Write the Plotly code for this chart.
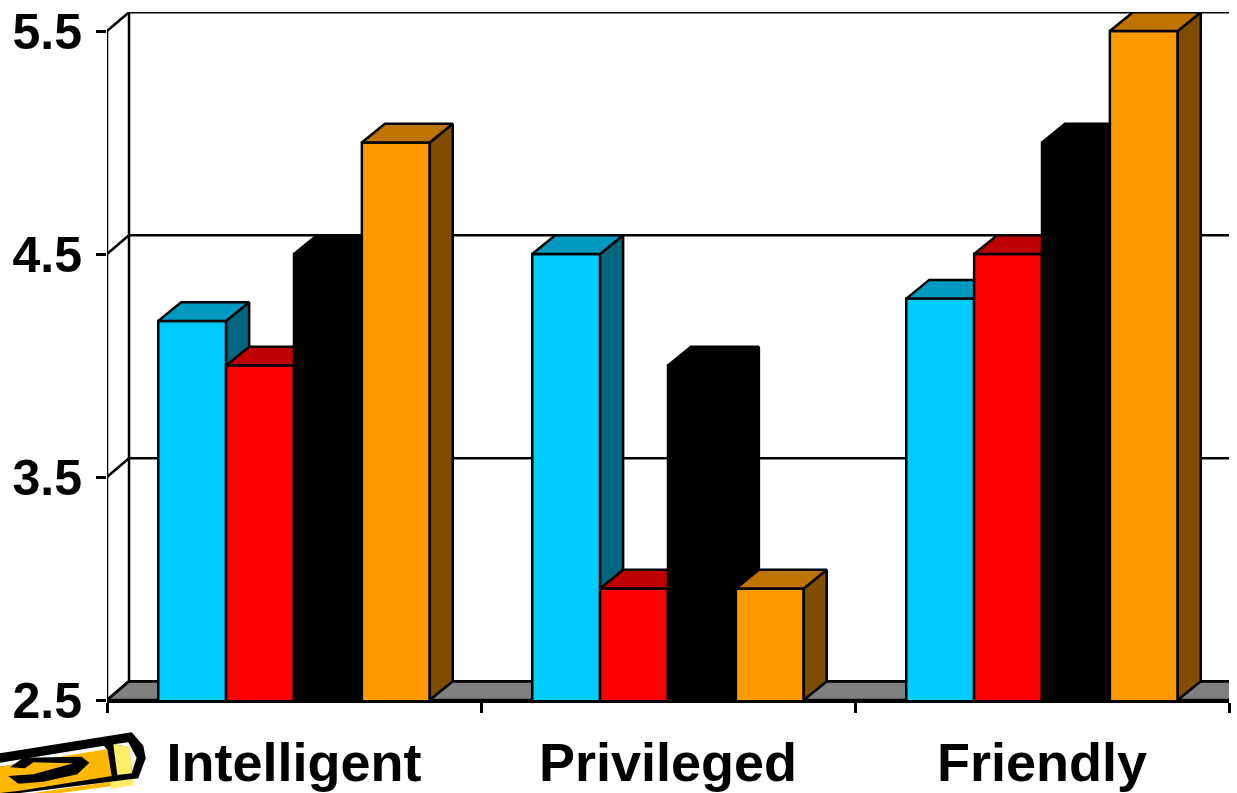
import plotly.graph_objects as go

# Survey ratings by trait and group
categories = ["Intelligent", "Privileged", "Friendly"]
blue_values = [4.2, 4.5, 4.3]
red_values = [4.0, 3.0, 4.5]
black_values = [4.5, 4.0, 5.0]
orange_values = [5.0, 3.0, 5.5]
y_ticks = [2.5, 3.5, 4.5, 5.5]

series = [
    ("Series 1", blue_values, "#00CCFF", "#0099BF", "#006680"),
    ("Series 2", red_values, "#FF0000", "#BF0000", "#800000"),
    ("Series 3", black_values, "#000000", "#000000", "#000000"),
    ("Series 4", orange_values, "#FF9900", "#BF7300", "#804D00"),
]

WIDTH, HEIGHT = 1237, 793
M_L, M_R, M_T, M_B = 107, 8, 12, 93
PX_X = 374.0          # pixels per category
PX_Y = 223.0          # pixels per rating unit
BASE = y_ticks[0]
DX = 22 / PX_X        # oblique depth of the 3D box
DY = 18.7 / PX_Y
BAR_DX = 23 / PX_X    # oblique depth of each bar
BAR_W = 0.1815
Y_TOP = BASE + (HEIGHT - M_B - M_T) / PX_Y
INK = "#000000"
STROKE = 2.5

fig = go.Figure()

# Floor, back wall and the axis line on the front-left edge
x_end = len(categories)
fig.add_trace(go.Scatter(
    x=[0, DX, x_end + DX, x_end, 0],
    y=[BASE, BASE + DY, BASE + DY, BASE, BASE],
    mode="lines", fill="toself", fillcolor="#808080",
    line=dict(color=INK, width=STROKE), cliponaxis=False, hoverinfo="skip",
))
wall_x, wall_y = [0, 0, None, DX, DX, None], [BASE, y_ticks[-1], None, BASE + DY, y_ticks[-1] + DY, None]
for tick in y_ticks:
    wall_x += [0, DX, None]
    wall_y += [tick, tick + DY, None]
    wall_x += [DX, x_end + DX, None]
    wall_y += [tick + DY, tick + DY, None]
fig.add_trace(go.Scatter(
    x=wall_x, y=wall_y, mode="lines", line=dict(color=INK, width=STROKE),
    cliponaxis=False, hoverinfo="skip",
))

# One overlaid y axis per series, so that each series paints over the one before it
for s, (name, values, front, top, side) in enumerate(series):
    yref = f"y{s + 2}"
    centers = [i + 0.5 for i in range(len(categories))]
    offset = (s - 2) * BAR_W
    fig.add_trace(go.Bar(
        x=centers, y=values, width=BAR_W, offset=offset, name=name, yaxis=yref,
        marker=dict(color=front, line=dict(color=INK, width=STROKE)),
    ))
    top_x, top_y, side_x, side_y = [], [], [], []
    for c, v in zip(centers, values):
        left = c + offset
        right = left + BAR_W
        top_x += [left, left + BAR_DX, right + BAR_DX, right, left, None]
        top_y += [v, v + DY, v + DY, v, v, None]
        side_x += [right, right + BAR_DX, right + BAR_DX, right, right, None]
        side_y += [BASE, BASE + DY, v + DY, v, BASE, None]
    for xs, ys, colour in ((side_x, side_y, side), (top_x, top_y, top)):
        fig.add_trace(go.Scatter(
            x=xs, y=ys, yaxis=yref, mode="lines", fill="toself", fillcolor=colour,
            line=dict(color=INK, width=STROKE), cliponaxis=False, hoverinfo="skip",
        ))

# Pencil clip-art; outlines are given in pixels from a local origin at its corner
def px_path(points, ox=0, oy=725, scale=3.0):
    plot_w = WIDTH - M_L - M_R
    plot_h = HEIGHT - M_T - M_B
    parts = []
    for i, (px, py) in enumerate(points):
        xp = (ox + px / scale - M_L) / plot_w
        yp = 1 - (oy + py / scale - M_T) / plot_h
        parts.append(f"{'M' if i == 0 else 'L'}{xp:.5f},{yp:.5f}")
    return " ".join(parts) + " Z"

pencil = [
    ([(100, 204), (332, 170), (332, 184), (180, 204)], "#FFB800"),
    ([(332, 170), (400, 162), (400, 180), (332, 192)], "#FFEE66"),
    ([(0, 85), (395, 22), (430, 62), (437, 100), (415, 160), (60, 204), (0, 210)], INK),
    ([(0, 113), (312, 62), (322, 75), (0, 125)], "#FFFFFF"),
    ([(0, 125), (322, 72), (335, 153), (60, 197), (0, 204)], "#FFB800"),
    ([(340, 58), (390, 65), (396, 145), (352, 150)], "#FFEE66"),
    ([(340, 58), (385, 52), (410, 98), (396, 142), (388, 66)], "#F8F8F8"),
    ([(30, 127), (70, 98), (245, 95), (268, 113), (232, 148), (130, 170), (55, 176),
      (25, 153), (100, 148), (220, 115), (100, 112), (75, 130)], INK),
]
shapes = [dict(type="path", xref="paper", yref="paper", path=px_path(p), fillcolor=c,
               line=dict(width=0), layer="above") for p, c in pencil]

fig.update_layout(
    width=WIDTH, height=HEIGHT, autosize=False, showlegend=False, barmode="overlay",
    paper_bgcolor="#FFFFFF", plot_bgcolor="#FFFFFF",
    margin=dict(l=M_L, r=M_R, t=M_T, b=M_B, pad=0, autoexpand=False),
    font=dict(family="Liberation Sans", color=INK),
    shapes=shapes,
    xaxis=dict(
        range=[0, x_end], tickmode="array", automargin=False,
        tickvals=[i + 0.5 for i in range(len(categories))], ticktext=categories,
        ticks="", showgrid=False, zeroline=False, fixedrange=True,
        showline=True, linecolor=INK, linewidth=STROKE,
        tickfont=dict(size=54, family="Liberation Sans", weight="bold"),
        ticklabelstandoff=13,
        minor=dict(tickmode="linear", tick0=0, dtick=1, ticks="outside", ticklen=10,
                   tickwidth=STROKE, tickcolor=INK, showgrid=False),
    ),
    yaxis=dict(
        range=[BASE, Y_TOP], tickmode="array", tickvals=y_ticks, automargin=False,
        ticktext=[f"{t:.1f}" for t in y_ticks],
        ticks="outside", ticklen=10, tickwidth=STROKE, tickcolor=INK,
        showgrid=False, zeroline=False, showline=False, fixedrange=True,
        tickfont=dict(size=50, family="Liberation Sans", weight="bold"),
        ticklabelstandoff=4,
    ),
)
for s in range(2, len(series) + 2):
    fig.update_layout({f"yaxis{s}": dict(range=[BASE, Y_TOP], overlaying="y", visible=False, fixedrange=True)})

fig.write_html("out.html", config=dict(displayModeBar=False))
